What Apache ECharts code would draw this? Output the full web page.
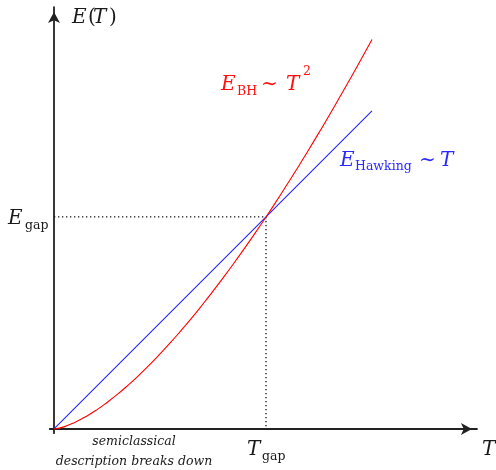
<!DOCTYPE html>
<html>
<head>
<meta charset="utf-8">
<script src="https://cdn.jsdelivr.net/npm/echarts@6/dist/echarts.min.js"></script>
<style>
  html, body { margin: 0; padding: 0; background: #fff; }
  #chart { width: 496px; height: 470px; }
</style>
</head>
<body>
<div id="chart"></div>
<script>
// temperature samples (T_gap = 1) and energies
const tValues = [0, 0.05, 0.1, 0.15, 0.2, 0.25, 0.3, 0.35, 0.4, 0.45, 0.5, 0.55, 0.6, 0.65, 0.7, 0.75,
  0.8, 0.85, 0.9, 0.95, 1.0, 1.05, 1.1, 1.15, 1.2, 1.25, 1.3, 1.35, 1.4, 1.45, 1.5]
const bhEnergy = [0, 0.011, 0.032, 0.058, 0.089, 0.125, 0.164, 0.207, 0.253, 0.302, 0.354, 0.408, 0.465,
  0.524, 0.586, 0.650, 0.716, 0.784, 0.854, 0.926, 1.0, 1.076, 1.154, 1.233, 1.315, 1.398, 1.482,
  1.569, 1.657, 1.746, 1.837]
const hawkingT = [0, 1.5]
const hawkingEnergy = [0, 1.5]
const gapPoint = [1, 1] // T_gap, E_gap

const chart = echarts.init(document.getElementById('chart'))

const serif = '"DejaVu Serif", "Liberation Serif", serif'

// one piece of label text, left-aligned, vertically centred
function piece (text, x, y, size, color, italic) {
  return {
    type: 'text',
    x: x,
    y: y,
    silent: true,
    style: {
      text: text,
      fill: color,
      font: (italic ? 'italic ' : '') + size + 'px ' + serif,
      textAlign: 'left',
      textVerticalAlign: 'middle'
    }
  }
}

const option = {
  animation: false,
  backgroundColor: '#fff',
  grid: { left: 49.76, top: 7.1, width: 427.2, height: 426.1 },
  xAxis: {
    type: 'value',
    min: -0.02,
    max: 1.995,
    axisLine: {
      onZero: true,
      symbol: ['none', 'arrow'],
      symbolSize: [9, 11],
      symbolOffset: [0, -5],
      lineStyle: { color: '#222', width: 1.8 }
    },
    axisTick: { show: false },
    axisLabel: { show: false },
    splitLine: { show: false }
  },
  yAxis: {
    type: 'value',
    min: -0.02,
    max: 1.99,
    axisLine: {
      onZero: true,
      symbol: ['none', 'arrow'],
      symbolSize: [9, 11],
      symbolOffset: [0, -5],
      lineStyle: { color: '#222', width: 1.8 }
    },
    axisTick: { show: false },
    axisLabel: { show: false },
    splitLine: { show: false }
  },
  series: [
    {
      name: 'gap',
      type: 'line',
      data: [[0, gapPoint[1]], gapPoint, [gapPoint[0], 0]],
      symbol: 'none',
      lineStyle: { color: '#111', width: 1.3, type: [1.3, 2.7] },
      z: 1
    },
    {
      name: 'Hawking',
      type: 'line',
      data: hawkingT.map((t, i) => [t, hawkingEnergy[i]]),
      symbol: 'none',
      lineStyle: { color: '#2020ff', width: 1.1 },
      z: 2
    },
    {
      name: 'BH',
      type: 'line',
      data: tValues.map((t, i) => [t, bhEnergy[i]]),
      symbol: 'none',
      smooth: true,
      lineStyle: { color: '#ff0000', width: 1.1 },
      z: 3
    }
  ]
}
chart.setOption(option)

const ink = '#1a1a1a'
const red = '#ff1010'
const blue = '#2a2aff'
chart.setOption({
  graphic: [
    // axis titles
    piece('E', 72, 18, 20, ink, true),
    piece('(', 88, 18, 20, ink, false),
    piece('T', 93, 18, 20, ink, true),
    piece(')', 109, 18, 20, ink, false),
    piece('T', 482, 450, 20, ink, true),
    // red label
    piece('E', 221, 85, 20, red, true),
    piece('BH', 237, 91.5, 12.5, red, false),
    piece('\u223C', 261, 85, 20, red, false),
    piece('T', 286, 85, 20, red, true),
    piece('2', 303, 71.5, 12.5, red, false),
    // blue label
    piece('E', 340, 161, 20, blue, true),
    piece('Hawking', 355, 167, 12.5, blue, false),
    piece('\u223C', 419, 161, 20, blue, false),
    piece('T', 440, 161, 20, blue, true),
    // gap labels
    piece('E', 8, 219, 20, ink, true),
    piece('gap', 25, 226, 12.5, ink, false),
    piece('T', 247, 450, 20, ink, true),
    piece('gap', 262, 457, 12.5, ink, false),
    // note under the origin
    {
      type: 'text',
      x: 134,
      y: 442,
      silent: true,
      style: { text: 'semiclassical', fill: ink, font: 'italic 12.5px ' + serif, textAlign: 'center', textVerticalAlign: 'middle' }
    },
    {
      type: 'text',
      x: 134,
      y: 462,
      silent: true,
      style: { text: 'description breaks down', fill: ink, font: 'italic 12.5px ' + serif, textAlign: 'center', textVerticalAlign: 'middle' }
    }
  ]
})
</script>
</body>
</html>
